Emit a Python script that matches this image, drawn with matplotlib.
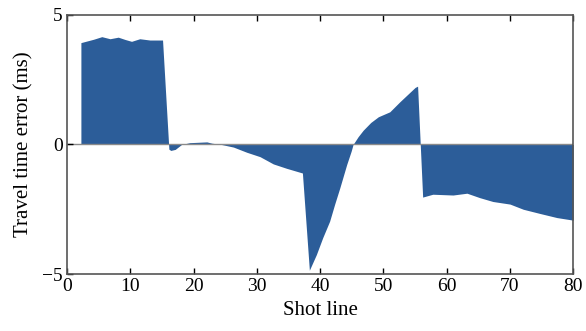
import matplotlib.pyplot as plt
import numpy as np

# travel time error along the shot line
shot = [2.2, 4.2, 5.5, 6.8, 8.1, 9.2, 10.2, 11.5, 13.1, 15.1,
        16.1, 16.4, 17.1, 18.1, 19.4, 22.1, 22.9, 24.4, 26.3, 28.4,
        30.5, 32.6, 34.7, 37.2, 38.3, 39.4, 40.4, 41.5, 42.3, 43.1,
        44.2, 44.9, 45.2, 46.0, 46.8, 48.0, 49.2, 51.0, 52.6, 55.0,
        55.4, 56.2, 57.8, 61.0, 63.2, 65.2, 67.3, 70.0, 72.1, 74.7,
        77.4, 80.0]
error = [3.93, 4.06, 4.16, 4.08, 4.14, 4.05, 3.98, 4.08, 4.03, 4.03,
         -0.18, -0.23, -0.19, 0.0, 0.07, 0.1, 0.05, 0.0, -0.1, -0.3,
         -0.47, -0.75, -0.92, -1.1, -4.85, -4.25, -3.6, -2.96, -2.3, -1.68,
         -0.77, -0.26, 0.0, 0.3, 0.55, 0.85, 1.07, 1.26, 1.65, 2.2,
         2.25, -2.03, -1.92, -1.95, -1.88, -2.05, -2.2, -2.3, -2.5, -2.66,
         -2.82, -2.92]

plt.rcParams['font.family'] = ['Liberation Serif', 'DejaVu Serif']
plt.rcParams['mathtext.fontset'] = 'stix'

fig = plt.figure(figsize=(5.86, 3.31), dpi=100)
ax = fig.add_axes([0.1143, 0.172, 0.864, 0.783])

x = np.array(shot)
y = np.array(error)
ax.fill_between(x, 0, y, color='#2c5d99', linewidth=0)
ax.axhline(0, color='#8a8a8a', linewidth=1.0, zorder=1)

ax.set_xlim(0, 80)
ax.set_ylim(-5, 5)
ax.set_xticks(range(0, 81, 10))
ax.set_yticks([-5, 0, 5])
ax.tick_params(direction='in', top=True, right=False, labelsize=14, length=4, width=1, pad=3)
for s in ax.spines.values():
    s.set_color('#555555')
    s.set_linewidth(1.2)

ax.set_xlabel('Shot line', fontsize=15, labelpad=4)
ax.set_ylabel('Travel time error (ms)', fontsize=15, labelpad=6)

fig.savefig('out.png', dpi=100)
